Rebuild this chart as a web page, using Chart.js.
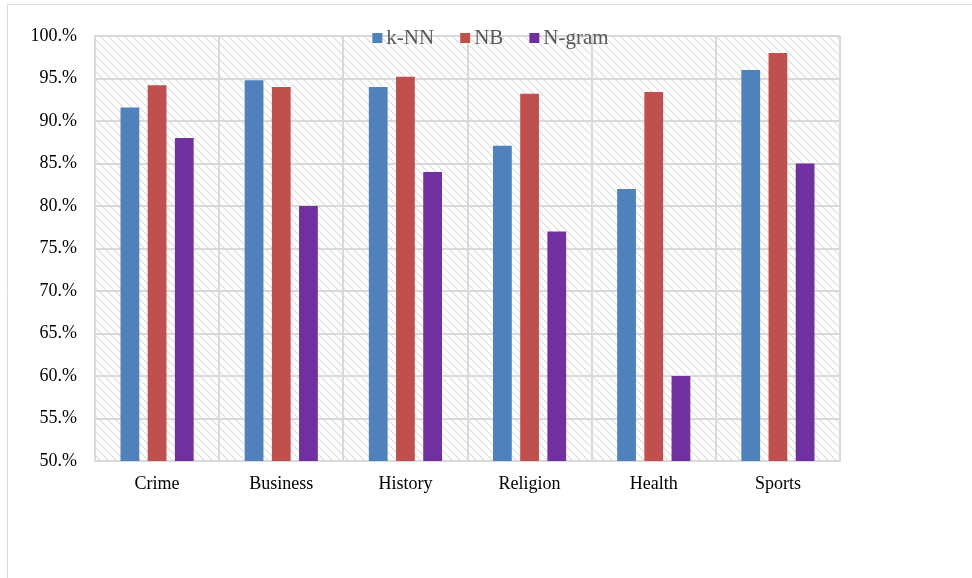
<!DOCTYPE html>
<html>
<head>
<meta charset="utf-8">
<script src="https://cdn.jsdelivr.net/npm/chart.js@4/dist/chart.umd.min.js"></script>
<style>
  html, body { margin: 0; padding: 0; background: #fff; }
  #wrap { position: relative; width: 972px; height: 578px; }
  canvas { display: block; }
</style>
</head>
<body>
<div id="wrap"><canvas id="chart" width="972" height="578"></canvas></div>
<script>
// Accuracy (%) of each classifier per news category
const categories = ['Crime', 'Business', 'History', 'Religion', 'Health', 'Sports'];
const knnValues = [91.6, 94.8, 94.0, 87.1, 82.0, 96.0];
const nbValues = [94.2, 94.0, 95.2, 93.2, 93.4, 98.0];
const ngramValues = [88.0, 80.0, 84.0, 77.0, 60.0, 85.0];
const seriesNames = ['k-NN', 'NB', 'N-gram'];
const yTicks = [50, 55, 60, 65, 70, 75, 80, 85, 90, 95, 100];

const colors = ['#4f81bd', '#c0504d', '#7030a0'];
const gridColor = '#d9d9d9';
const serif = '"Liberation Serif", "Times New Roman", serif';

// Diagonal hatch fill for the plot background
function makeHatch(ctx) {
  const c = document.createElement('canvas');
  c.width = 8; c.height = 8;
  const p = c.getContext('2d');
  p.strokeStyle = '#dcdcdc';
  p.lineWidth = 1.1;
  p.beginPath();
  p.moveTo(-1, -1); p.lineTo(9, 9);
  p.moveTo(-1, 7); p.lineTo(1, 9);
  p.moveTo(7, -1); p.lineTo(9, 1);
  p.stroke();
  return ctx.createPattern(c, 'repeat');
}

const hatchBackground = {
  id: 'hatchBackground',
  beforeDraw(chart) {
    const { ctx, chartArea: a } = chart;
    ctx.save();
    ctx.fillStyle = '#fff';
    ctx.fillRect(0, 0, chart.width, chart.height);
    ctx.fillStyle = makeHatch(ctx);
    ctx.fillRect(a.left, a.top, a.right - a.left, a.bottom - a.top);
    // light frame around the whole figure
    ctx.strokeStyle = '#d9d9d9';
    ctx.lineWidth = 1;
    ctx.beginPath();
    ctx.moveTo(7.5, chart.height);
    ctx.lineTo(7.5, 4.5);
    ctx.lineTo(chart.width, 4.5);
    ctx.stroke();
    ctx.restore();
  }
};

// Legend drawn across the top edge of the plot area
const topLegend = {
  id: 'topLegend',
  afterDraw(chart) {
    const { ctx, chartArea: a } = chart;
    ctx.save();
    ctx.font = '21px ' + serif;
    ctx.textBaseline = 'middle';
    const box = 10, gapText = 4, gapItem = 26;
    const items = chart.data.datasets.map(d => ({ text: d.label, color: d.backgroundColor }));
    const widths = items.map(it => box + gapText + ctx.measureText(it.text).width);
    const total = widths.reduce((s, w) => s + w, 0) + gapItem * (items.length - 1);
    let x = (a.left + a.right) / 2 + 23 - total / 2;
    const y = a.top + 2;
    items.forEach((it, i) => {
      ctx.fillStyle = it.color;
      ctx.fillRect(x, y - box / 2, box, box);
      ctx.fillStyle = '#595959';
      ctx.fillText(it.text, x + box + gapText, y);
      x += widths[i] + gapItem;
    });
    ctx.restore();
  }
};

const ctx = document.getElementById('chart').getContext('2d');
new Chart(ctx, {
  type: 'bar',
  data: {
    labels: categories,
    datasets: [
      { label: seriesNames[0], data: knnValues, backgroundColor: colors[0] },
      { label: seriesNames[1], data: nbValues, backgroundColor: colors[1] },
      { label: seriesNames[2], data: ngramValues, backgroundColor: colors[2] }
    ]
  },
  options: {
    responsive: false,
    animation: false,
    devicePixelRatio: 1,
    categoryPercentage: 0.657,
    barPercentage: 0.69,
    layout: { padding: { top: 36, right: 132, left: 0, bottom: 0 } },
    plugins: {
      legend: { display: false },
      tooltip: { enabled: false }
    },
    scales: {
      x: {
        grid: { color: gridColor, lineWidth: 2, drawTicks: false, offset: true },
        border: { color: gridColor, width: 2 },
        ticks: {
          color: '#000',
          font: { family: serif, size: 18 },
          padding: 12,
          maxRotation: 0
        },
        afterFit(scale) { scale.height = 117; }
      },
      y: {
        min: 50,
        max: 100,
        afterBuildTicks(scale) { scale.ticks = yTicks.map(v => ({ value: v })); },
        grid: { color: gridColor, lineWidth: 2, drawTicks: false },
        border: { color: gridColor, width: 2 },
        ticks: {
          color: '#000',
          font: { family: serif, size: 18 },
          padding: 18,
          callback: v => v + '.%'
        },
        afterFit(scale) { scale.width = 95; }
      }
    }
  },
  plugins: [hatchBackground, topLegend]
});
</script>
</body>
</html>
